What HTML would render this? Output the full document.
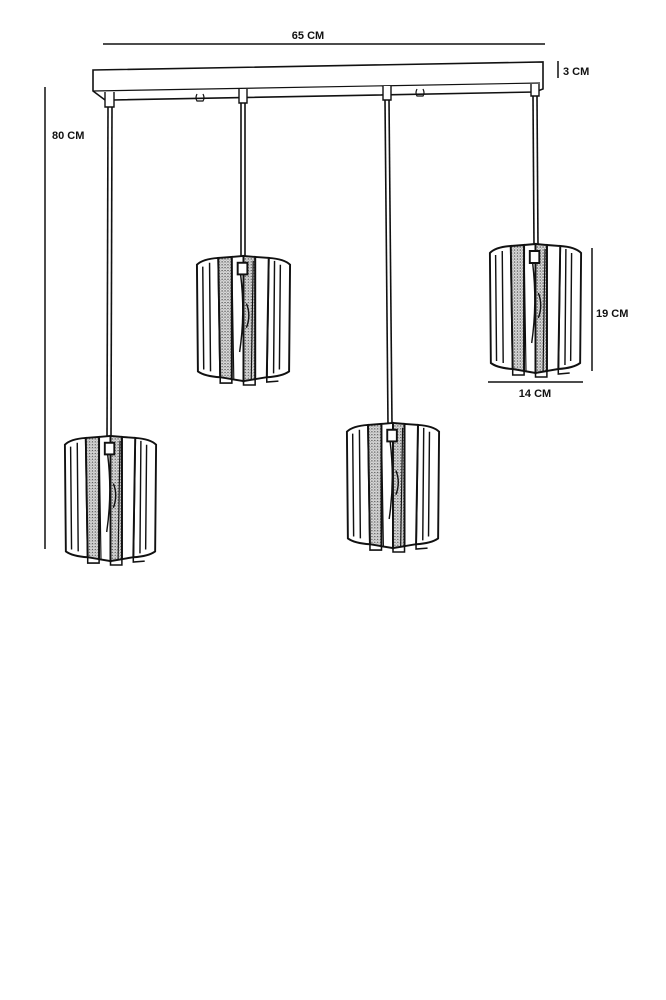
<!DOCTYPE html>
<html><head><meta charset="utf-8"><style>
html,body{margin:0;padding:0;background:#fff;}
svg{display:block;}
text{font-family:"Liberation Sans",sans-serif;font-weight:bold;font-size:11px;fill:#111;}
</style></head><body>
<svg width="666" height="1000" viewBox="0 0 666 1000" xmlns="http://www.w3.org/2000/svg">
<defs>
<pattern id="dots" width="3" height="3" patternUnits="userSpaceOnUse">
<rect width="3" height="3" fill="#ddd"/><circle cx="1" cy="1" r="0.8" fill="#555"/><circle cx="2.5" cy="2.3" r="0.5" fill="#888"/>
</pattern>
<g id="lamp" stroke="#111" fill="none" stroke-width="2">
<path d="M2,10 Q8,4 24,3 L26,126 Q10,125 3,120 Z" fill="#fff"/>
<path d="M76,3 Q92,4 98,10 L97,120 Q90,125 74,126 Z" fill="#fff"/>
<path d="M24,3 L38,2 L38,128 L26,126 Z" fill="url(#dots)"/>
<path d="M62,2 L76,3 L74,126 L62,128 Z" fill="#fff"/>
<path d="M38,2 L50,1 L50,130 L38,128 Z" fill="#fff"/>
<path d="M50,1 L62,2 L62,128 L50,130 Z" fill="url(#dots)"/>
<path d="M8,12 L9,118 M15,8 L16,120 M88,10 L87,118 M82,6 L81,122" stroke-width="1.5"/>
<path d="M38,6 L40,128 M60,6 L58,128" stroke-width="1.2"/>
<rect x="44" y="8" width="10" height="12" fill="#fff"/>
<path d="M47,20 Q52,60 46,100 M53,50 Q58,62 53,75" stroke-width="1.5"/>
<path d="M26,126 L26,132 L38,132 L38,128 M50,130 L50,134 L62,134 L62,128 M74,126 L74,131 L86,130" stroke-width="1.6"/>
</g>
</defs>

<line x1="103" y1="44" x2="545" y2="44" stroke="#111" stroke-width="1.6"/>
<text x="308" y="39" text-anchor="middle">65 CM</text>

<path d="M93,70 L543,62 L543,89 L535,92 L113,100 L105,100 L93,91 Z" fill="#fff" stroke="#111" stroke-width="1.6"/>
<path d="M93,91 L540,83" stroke="#111" stroke-width="1.2"/>
<path d="M105,92 L105,107 L114,107 L114,92" fill="#fff" stroke="#111" stroke-width="1.4"/>
<path d="M239,89 L239,103 L247,103 L247,89" fill="#fff" stroke="#111" stroke-width="1.4"/>
<path d="M383,86 L383,100 L391,100 L391,86" fill="#fff" stroke="#111" stroke-width="1.4"/>
<path d="M531,84 L531,96 L539,96 L539,84" fill="#fff" stroke="#111" stroke-width="1.4"/>
<path d="M197,94 q-2,4 0,7 h6 q2,-3 0,-7 M417,89 q-2,4 0,7 h6 q2,-3 0,-7" fill="none" stroke="#111" stroke-width="1.2"/>

<line x1="558" y1="61" x2="558" y2="78" stroke="#111" stroke-width="1.5"/>
<text x="563" y="75">3 CM</text>

<line x1="45" y1="87" x2="45" y2="549" stroke="#111" stroke-width="1.5"/>
<text x="52" y="139">80 CM</text>

<g stroke="#111" stroke-width="1.6">
<line x1="108" y1="107" x2="107" y2="440"/><line x1="112" y1="107" x2="111" y2="440"/>
<line x1="241" y1="103" x2="241" y2="258"/><line x1="245" y1="103" x2="245" y2="258"/>
<line x1="385" y1="100" x2="388" y2="425"/><line x1="389" y1="100" x2="392" y2="425"/>
<line x1="533" y1="96" x2="534" y2="246"/><line x1="537" y1="96" x2="538" y2="246"/>
</g>

<use href="#lamp" transform="translate(63,435) scale(0.95,0.97)"/>
<use href="#lamp" transform="translate(195,255) scale(0.97,0.97)"/>
<use href="#lamp" transform="translate(345,422) scale(0.96,0.97)"/>
<use href="#lamp" transform="translate(488,243) scale(0.95,1.0)"/>

<line x1="592" y1="248" x2="592" y2="371" stroke="#111" stroke-width="1.5"/>
<text x="596" y="317">19 CM</text>
<line x1="488" y1="382" x2="583" y2="382" stroke="#111" stroke-width="1.5"/>
<text x="535" y="397" text-anchor="middle">14 CM</text>
</svg>
</body></html>
